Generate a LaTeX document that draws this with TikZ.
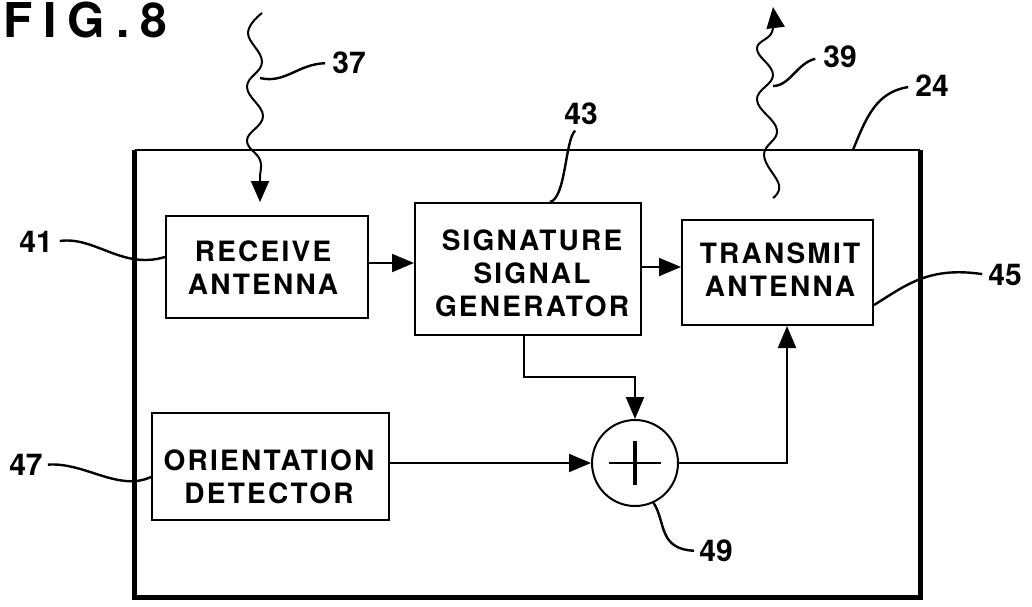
\documentclass[tikz,border=0pt]{standalone}
\usepackage{fontspec}
\setmainfont{TeX Gyre Heros}
\newfontfamily\boxfont{TeX Gyre Heros}[LetterSpace=8]
\newfontfamily\figfont{TeX Gyre Heros}[LetterSpace=23]
\usetikzlibrary{arrows.meta}
\tikzset{
  blk/.style={draw, line width=2pt, inner sep=0},
  btxt/.style={font={\boxfont\bfseries\fontsize{28}{33}\selectfont}, align=center, inner sep=0},
  num/.style={font={\bfseries\fontsize{30}{30}\selectfont}, inner sep=0},
  lead/.style={line width=2.4pt},
  wavy/.style={line width=2pt},
  arr/.style={line width=2pt, -{Triangle[length=22pt,width=18pt]}},
}
\begin{document}
\begin{tikzpicture}[x=1pt,y=-1pt]
\useasboundingbox (0,0) rectangle (1032,606);
% title
\node[font={\figfont\bfseries\fontsize{48}{48}\selectfont}, inner sep=0, anchor=base west] (fig) at (3,37) {FIG.8};
% device frame
\node[inner sep=0, minimum width=785pt, minimum height=447pt] (dev) at (527.5,373.5) {};
\draw[line width=5pt, line join=miter] (dev.north west) -- (dev.south west) -- (dev.south east) -- (dev.north east);
\draw[line width=2.4pt] (dev.north west) -- (dev.north east);
% blocks
\node[blk, minimum width=202pt, minimum height=102pt] (recv) at (267,267) {};
\node[btxt] (recvt) at (263,267.5) {RECEIVE\\ANTENNA};
\node[blk, minimum width=226pt, minimum height=132pt] (sig) at (528,269) {};
\node[btxt] (sigt) at (532,273.5) {SIGNATURE\\SIGNAL\\GENERATOR};
\node[blk, minimum width=191pt, minimum height=105pt] (tx) at (777.5,272.5) {};
\node[btxt] (txt) at (780,270) {TRANSMIT\\ANTENNA};
\node[blk, minimum width=237pt, minimum height=107pt] (ori) at (270.5,466.5) {};
\node[btxt] (orit) at (269,476.5) {ORIENTATION\\DETECTOR};
\node[circle, draw, line width=2pt, minimum size=86pt, inner sep=0] (sum) at (635,463) {};
\draw[line width=2.2pt] ([xshift=-26pt]sum.center) -- ([xshift=26pt]sum.center);
\draw[line width=3.2pt] ([yshift=-22pt]sum.center) -- ([yshift=22pt]sum.center);
% connectors
\draw[arr] (recv.east |- 0,263) -- (sig.west |- 0,263);
\draw[arr] (sig.east |- 0,267) -- (tx.west |- 0,267);
\draw[arr] (sig.south -| 524,0) -- (524,377) -- (sum.north |- 0,377) -- (sum.north);
\draw[arr] (ori.east |- sum.west) -- (sum.west);
\draw[arr] (sum.east) -| (tx.south -| 787,0);
% waves
\coordinate (w37end) at (260,202);
\coordinate (w39end) at (773,7);
\draw[wavy, -{Triangle[length=21pt,width=18pt]}] plot[smooth, tension=0.7] coordinates
  {(262,13) (248,33) (262,62) (247,87) (263,116) (247,140) (260,160) (260,178) (w37end)};
\draw[wavy, -{Triangle[length=21pt,width=18pt]}] plot[smooth, tension=0.7] coordinates
  {(773,198) (779,185) (764,155) (777,130) (757,100) (773,75) (757,49) (772,32) (w39end)};
\coordinate (p37) at (260,78);
\coordinate (p39) at (773,86);
% labels
\node[num] (l37) at (349,63) {37};
\node[num] (l39) at (840,57) {39};
\node[num] (l24) at (932,86) {24};
\node[num] (l43) at (581,114) {43};
\node[num] (l41) at (36,242) {41};
\node[num] (l45) at (1005,275) {45};
\node[num] (l47) at (26,465) {47};
\node[num] (l49) at (716,551) {49};
% leaders
\draw[lead, shorten >=7pt] (p37) .. controls (285,84) and (298,64) .. (l37.west);
\draw[lead, shorten >=8pt] (p39) .. controls (790,86) and (797,63) .. (l39.west);
\draw[lead, shorten >=7pt] (dev.north -| 853,0) .. controls (866,118) and (876,92) .. (l24.west);
\draw[lead, shorten <=8pt] (l43.south) .. controls (565,140) and (566,198) .. (sig.north -| 550,0);
\draw[lead, shorten <=7pt] (l41.east) .. controls (95,236) and (122,270) .. (recv.west |- 0,257);
\draw[lead, shorten >=6pt] (tx.east |- 0,305) .. controls (905,286) and (928,266) .. (l45.west);
\draw[lead, shorten <=5pt] (l47.east) .. controls (85,462) and (118,492) .. (ori.west |- 0,477);
\draw[lead, shorten >=5pt] (sum.-65) .. controls (666,522) and (658,549) .. (l49.west);
\end{tikzpicture}
\end{document}
